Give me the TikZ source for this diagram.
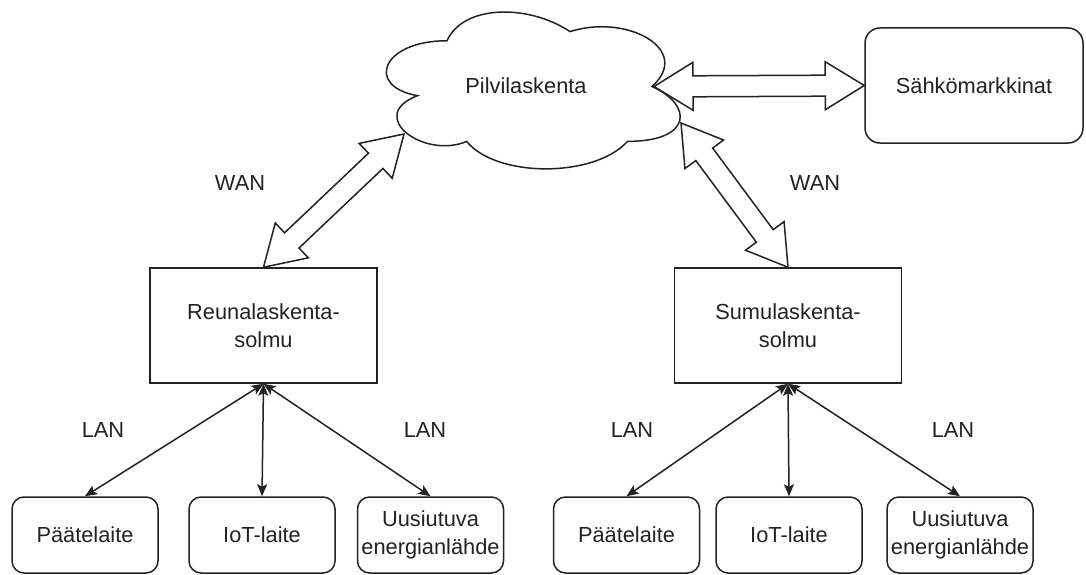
\documentclass[tikz,border=0pt]{standalone}
\usepackage{fontspec}
\setmainfont{Liberation Sans}
\usetikzlibrary{arrows.meta,calc}
\definecolor{ink}{HTML}{222222}
\tikzset{
  txt/.style={text=ink, font=\fontsize{21.8}{27.5}\selectfont, align=center, inner sep=0pt},
  sqbox/.style={txt, draw=ink, line width=1.5pt, minimum width=227pt, minimum height=115pt},
  rbox/.style={txt, draw=ink, line width=1.5pt, rounded corners=12pt, minimum width=146pt, minimum height=76pt},
  mbox/.style={txt, draw=ink, line width=1.5pt, rounded corners=15pt, minimum width=218pt, minimum height=115pt},
  lan/.style={draw=ink, line width=1.5pt, {Stealth[length=12pt,width=10pt,inset=2.5pt]}-{Stealth[length=12pt,width=10pt,inset=2.5pt]}},
  blockarr/.style={draw=ink, line width=1.5pt, fill=white, line join=miter},
}
\newcommand\blockarrow[2]{%
  \draw[blockarr] (#1)
   -- ($(#1)!39pt!(#2)!24pt!90:(#2)$)
   -- ($(#1)!39pt!(#2)!10.5pt!90:(#2)$)
   -- ($(#2)!39pt!(#1)!10.5pt!-90:(#1)$)
   -- ($(#2)!39pt!(#1)!24pt!-90:(#1)$)
   -- (#2)
   -- ($(#2)!39pt!(#1)!24pt!90:(#1)$)
   -- ($(#2)!39pt!(#1)!10.5pt!90:(#1)$)
   -- ($(#1)!39pt!(#2)!10.5pt!-90:(#2)$)
   -- ($(#1)!39pt!(#2)!24pt!-90:(#2)$)
   -- cycle;}
\begin{document}
\begin{tikzpicture}[x=1pt,y=-1pt]
\useasboundingbox (0,0) rectangle (1086,575);
% cloud
\draw[draw=ink, line width=1.5pt, fill=white]
  (447,40.75) .. controls (381.4,40.75) and (365,86.5) .. (417.5,95.65)
  .. controls (365,115.8) and (424,159.7) .. (466.7,141.4)
  .. controls (496.2,178) and (594.6,178) .. (627.4,141.4)
  .. controls (693,141.4) and (693,104.8) .. (652,86.5)
  .. controls (693,49.9) and (627.4,13.3) .. (570,31.6)
  .. controls (529,4.15) and (463.4,4.15) .. (447,40.75) -- cycle;
\node[txt] (pilvi) at (526,86) {Pilvilaskenta};
\coordinate (cR) at (654,86.5);
\coordinate (cL) at (404,134);
\coordinate (cD) at (681,123);

\node[mbox] (sahko) at (974,85.5) {Sähkömarkkinat};
\node[sqbox] (reuna) at (263.5,325.5) {Reunalaskenta-\\solmu};
\node[sqbox] (sumu) at (788,325.5) {Sumulaskenta-\\solmu};

\node[rbox] (p1) at (85,535) {Päätelaite};
\node[rbox] (i1) at (262,535) {IoT-laite};
\node[rbox] (u1) at (430.5,535) {Uusiutuva\\energianlähde};
\node[rbox] (p2) at (626.5,535) {Päätelaite};
\node[rbox] (i2) at (789,535) {IoT-laite};
\node[rbox] (u2) at (960,535) {Uusiutuva\\energianlähde};

\blockarrow{cR}{sahko.west}
\blockarrow{reuna.north}{cL}
\blockarrow{cD}{sumu.north}

\draw[lan] (reuna.south) -- (p1.north);
\draw[lan] (reuna.south) -- (i1.north);
\draw[lan] (reuna.south) -- (u1.north);
\draw[lan] (sumu.south) -- (p2.north);
\draw[lan] (sumu.south) -- (i2.north);
\draw[lan] (sumu.south) -- (u2.north);

\node[txt] (wan1) at (240,183) {WAN};
\node[txt] (wan2) at (815,183) {WAN};
\node[txt] (lan1) at (103,430) {LAN};
\node[txt] (lan2) at (425,430) {LAN};
\node[txt] (lan3) at (632,430) {LAN};
\node[txt] (lan4) at (953,430) {LAN};
\end{tikzpicture}
\end{document}
